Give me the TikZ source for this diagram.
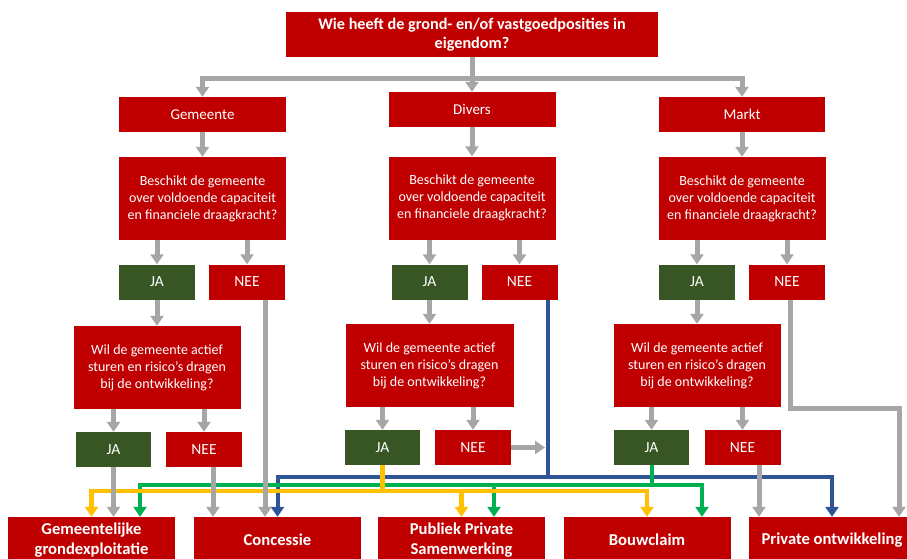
\documentclass[tikz,border=0pt]{standalone}
\usepackage{fontspec}
\setmainfont{Carlito}
\usetikzlibrary{arrows.meta}
\definecolor{bred}{HTML}{C00000}
\definecolor{bgreen}{HTML}{375623}
\definecolor{lgray}{HTML}{A6A6A6}
\definecolor{lblue}{HTML}{2F5597}
\definecolor{lyellow}{HTML}{FFC000}
\definecolor{lgreen}{HTML}{00B050}
\begin{document}
\begin{tikzpicture}[x=1pt,y=-1pt,
  box/.style={fill=bred,text=white,inner sep=0pt,align=center,font=\fontsize{14}{17}\selectfont},
  ansbox/.style={box,font=\fontsize{15.5}{18}\selectfont},
  yesbox/.style={ansbox,fill=bgreen},
  sz/.style 2 args={minimum width=#1,minimum height=#2},
  tip/.style={-{Triangle[width=13pt,length=10pt]}},
  gline/.style={draw=lgray,line width=5pt},
  garr/.style={gline,tip},
  bline/.style={draw=lblue,line width=4pt},
  barr/.style={bline,tip},
  gnline/.style={draw=lgreen,line width=4pt},
  gnarr/.style={gnline,tip},
  yline/.style={draw=lyellow,line width=4.5pt},
  yarr/.style={yline,tip}]
\useasboundingbox (0,0) rectangle (907,558);
\clip (0,0) rectangle (907,558);
% top
\node[box,sz={372pt}{45pt},font=\fontsize{16.2}{19}\selectfont\bfseries] (top) at (472,34.5) {Wie heeft de grond- en/of vastgoedposities in\\eigendom?};
% level 1
\node[box,sz={167pt}{35pt},font=\fontsize{15}{18}\selectfont] (gem) at (202.5,114.5) {Gemeente};
\node[box,sz={167pt}{35pt},font=\fontsize{15}{18}\selectfont] (div) at (472,109.5) {Divers};
\node[box,sz={166pt}{35pt},font=\fontsize{15}{18}\selectfont] (mkt) at (742,114.5) {Markt};
% question 1
\node[box,sz={167pt}{83pt}] (q1l) at (202.5,198.5) {Beschikt de gemeente\\over voldoende capaciteit\\en financiele draagkracht?};
\node[box,sz={167pt}{83pt}] (q1m) at (472,198) {Beschikt de gemeente\\over voldoende capaciteit\\en financiele draagkracht?};
\node[box,sz={167pt}{83pt}] (q1r) at (742,198.5) {Beschikt de gemeente\\over voldoende capaciteit\\en financiele draagkracht?};
% answers 1
\node[yesbox,sz={76pt}{35pt}] (ja1l) at (157,282) {JA};
\node[ansbox,sz={76pt}{35pt}] (nee1l) at (247,282) {NEE};
\node[yesbox,sz={76pt}{35pt}] (ja1m) at (429.5,282) {JA};
\node[ansbox,sz={76pt}{35pt}] (nee1m) at (519.5,282) {NEE};
\node[yesbox,sz={76pt}{35pt}] (ja1r) at (697,282) {JA};
\node[ansbox,sz={76pt}{35pt}] (nee1r) at (787,282) {NEE};
% question 2
\node[box,sz={167pt}{83pt}] (q2l) at (157,367.5) {Wil de gemeente actief\\sturen en risico’s dragen\\bij de ontwikkeling?};
\node[box,sz={168pt}{83pt}] (q2m) at (429.5,365.5) {Wil de gemeente actief\\sturen en risico’s dragen\\bij de ontwikkeling?};
\node[box,sz={167pt}{83pt}] (q2r) at (697,365.5) {Wil de gemeente actief\\sturen en risico’s dragen\\bij de ontwikkeling?};
% answers 2
\node[yesbox,sz={75pt}{35pt}] (ja2l) at (113.5,449.5) {JA};
\node[ansbox,sz={76pt}{35pt}] (nee2l) at (204,449.5) {NEE};
\node[yesbox,sz={75pt}{35pt}] (ja2m) at (382.5,447.5) {JA};
\node[ansbox,sz={76pt}{35pt}] (nee2m) at (473,447.5) {NEE};
\node[yesbox,sz={75pt}{35pt}] (ja2r) at (651.5,447.5) {JA};
\node[ansbox,sz={76pt}{35pt}] (nee2r) at (742.5,447.5) {NEE};
% outcomes
\tikzset{outc/.style={box,sz={167pt}{46pt},font=\fontsize{16.6}{20}\selectfont\bfseries}}
\node[outc] (ge) at (91.5,540) {Gemeentelijke\\grondexploitatie};
\node[outc] (co) at (277.5,540) {Concessie};
\node[outc] (pps) at (461.5,540) {Publiek Private\\Samenwerking};
\node[outc] (bc) at (647,540) {Bouwclaim};
\node[outc] (po) at (832,540) {Private ontwikkeling};
% helper coordinates
\coordinate (hub) at (472,78);
\coordinate (bj) at (548,477);
\coordinate (gj) at (651.5,485);
\coordinate (yj) at (382.5,491);
\coordinate (pc) at (899,408);
\coordinate (n2ls) at ([xshift=9pt]nee2l.south);
\coordinate (n1ls) at ([xshift=18pt]nee1l.south);
\coordinate (n1ms) at ([xshift=28.5pt]nee1m.south);
\coordinate (n1rs) at ([xshift=3pt]nee1r.south);
\coordinate (n2rs) at ([xshift=16.5pt]nee2r.south);
\coordinate (n2me) at (nee2m.east);
\coordinate (geg) at ([xshift=48.5pt]ge.north);
\coordinate (ppsg) at ([xshift=32.5pt]pps.north);
\coordinate (bcg) at ([xshift=55pt]bc.north);
% blue
\draw[bline] (n1ms) -- (bj);
\draw[barr] (bj) -| (co.north);
\draw[barr] (bj) -| (po.north);
% green
\draw[gnline] (ja2r.south) -- (gj);
\draw[gnarr] (gj) -| (geg);
\draw[gnarr] (gj) -| (ppsg);
\draw[gnarr] (gj) -| (bcg);
% yellow
\draw[yline] (ja2m.south) -- (yj);
\draw[yarr] (yj) -| (ge.north);
\draw[yarr] (yj) -| (pps.north);
\draw[yarr] (yj) -| (bc.north);
% gray
\draw[gline] (top.south) -- (hub);
\draw[garr] (hub) -| (gem.north);
\draw[garr] (hub) -- (div.north);
\draw[garr] (hub) -| (mkt.north);
\draw[garr] (gem) -- (q1l);
\draw[garr] (div) -- (q1m);
\draw[garr] (mkt) -- (q1r);
\foreach \q/\a in {q1l/ja1l,q1l/nee1l,q1m/ja1m,q1m/nee1m,q1r/ja1r,q1r/nee1r,q2l/ja2l,q2l/nee2l,q2m/ja2m,q2m/nee2m,q2r/ja2r,q2r/nee2r}
  \draw[garr] (\q.south -| \a.north) -- (\a.north);
\draw[garr] (ja1l.south) -- (ja1l.south |- q2l.north);
\draw[garr] (ja1m.south) -- (ja1m.south |- q2m.north);
\draw[garr] (ja1r.south) -- (ja1r.south |- q2r.north);
\draw[garr] (ja2l.south) -- (ja2l.south |- ge.north);
\draw[garr] (n2ls) -- (n2ls |- co.north);
\draw[garr] (n1ls) -- (n1ls |- co.north);
\draw[garr] (n2me) -- ([xshift=-3pt]n2me -| bj);
\draw[garr] (n1rs) |- (pc) -- (pc |- po.north);
\draw[garr] (n2rs) -- (n2rs |- po.north);
\end{tikzpicture}
\end{document}
